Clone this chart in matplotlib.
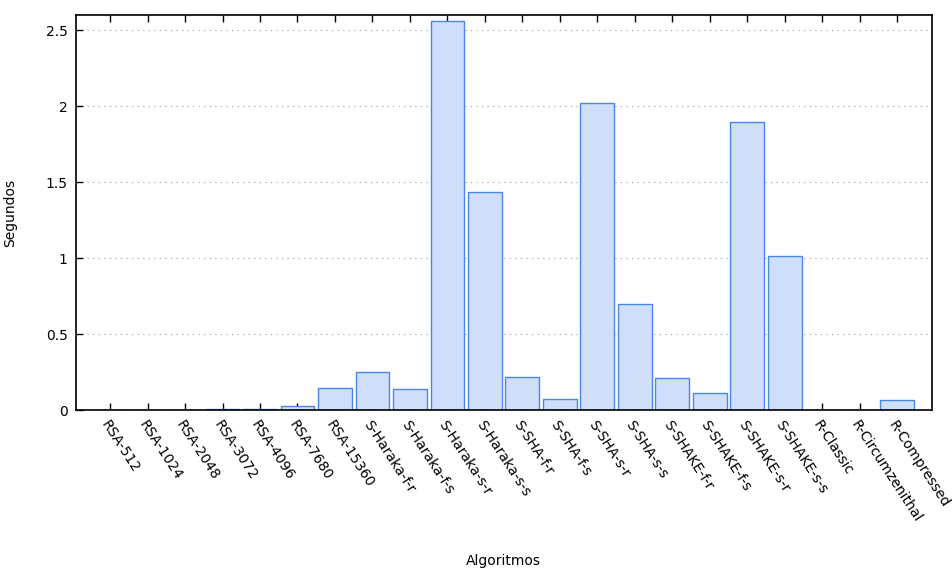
import matplotlib
matplotlib.use("Agg")
import matplotlib.pyplot as plt
import matplotlib.transforms as mtransforms
import numpy as np

categories = ["RSA-512", "RSA-1024", "RSA-2048", "RSA-3072", "RSA-4096", "RSA-7680",
              "RSA-15360", "S-Haraka-f-r", "S-Haraka-f-s", "S-Haraka-s-r", "S-Haraka-s-s",
              "S-SHA-f-r", "S-SHA-f-s", "S-SHA-s-r", "S-SHA-s-s", "S-SHAKE-f-r",
              "S-SHAKE-f-s", "S-SHAKE-s-r", "S-SHAKE-s-s", "R-Classic", "R-Circumzenithal",
              "R-Compressed"]
seconds = [0.0005, 0.001, 0.002, 0.004, 0.008, 0.027, 0.145, 0.25, 0.138, 2.56, 1.435,
           0.217, 0.072, 2.02, 0.697, 0.21, 0.112, 1.895, 1.013, 0.0005, 0.001, 0.066]
yticks = [0, 0.5, 1, 1.5, 2, 2.5]
ytick_labels = ["0", "0.5", "1", "1.5", "2", "2.5"]

plt.rcParams['font.family'] = ['DejaVu Sans']
fig = plt.figure(figsize=(9.52, 5.70), dpi=100)
ax = fig.add_axes([76/952, 1-410/570, (932-76)/952, (410-15)/570])

x = np.arange(len(categories))
ax.bar(x, seconds, width=0.9, color="#d0dff9", edgecolor="#4a86e8", linewidth=1.0, zorder=3)

ax.set_xlim(-0.91, len(categories) - 1 + 0.93)
ax.set_ylim(0, 2.6)
ax.set_yticks(yticks)
ax.set_yticklabels(ytick_labels, fontsize=10)
ax.set_xticks(x)
ax.set_xticklabels(categories, rotation=-57, ha='left', va='top', rotation_mode='anchor', fontsize=10)
offset = mtransforms.ScaledTranslation(4/100, 0, fig.dpi_scale_trans)
for lbl in ax.get_xticklabels():
    lbl.set_transform(lbl.get_transform() + offset)
ax.tick_params(axis='x', direction='in', top=True, length=5, width=1, pad=6)
ax.tick_params(axis='y', direction='in', length=5, width=1, pad=6)
ax.yaxis.grid(True, linestyle=(0, (1, 4)), color='#999999', linewidth=0.8, zorder=0)
for s in ax.spines.values():
    s.set_linewidth(1.2)
    s.set_zorder(4)

ax.set_ylabel("Segundos", fontsize=10)
ax.yaxis.set_label_coords((17 - 76) / 856, 0.5)
fig.text(503/952, 1-561/570, "Algoritmos", ha='center', va='center', fontsize=10)

fig.savefig("out.png", dpi=100)
